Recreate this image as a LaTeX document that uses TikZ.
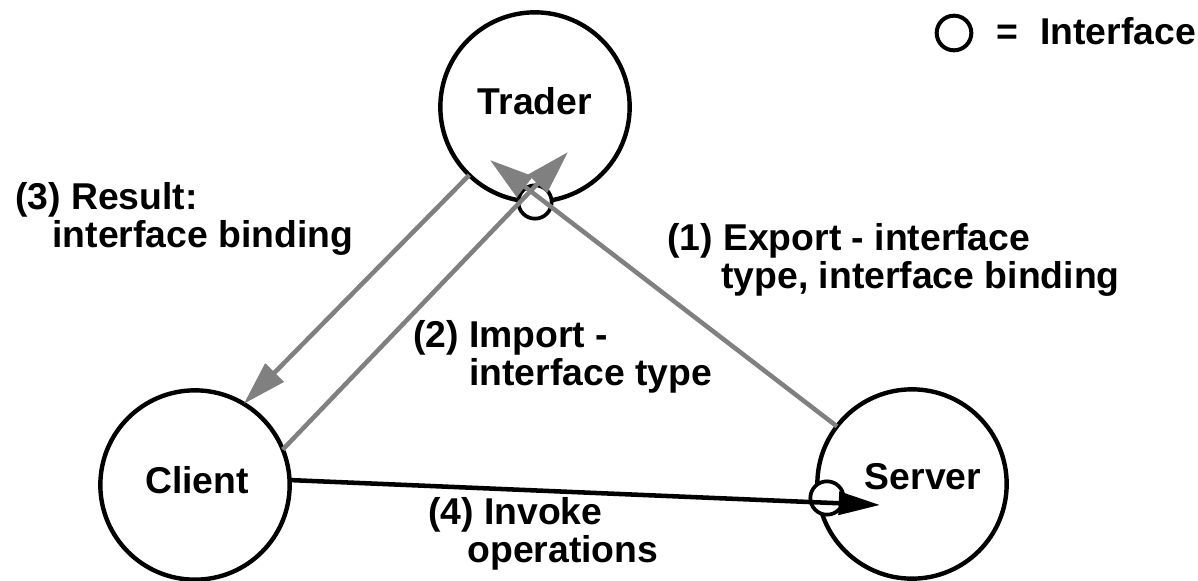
\documentclass[tikz,border=0pt]{standalone}
\usepackage{fontspec}
\setmainfont{Liberation Sans}
\usepackage{tikz}
\usetikzlibrary{arrows.meta}

\begin{document}
\begin{tikzpicture}[x=0.75pt, y=-0.75pt,
    font=\fontsize{28}{28.5}\selectfont\bfseries,
    agent/.style={draw, circle, line width=3.3pt, minimum size=142pt, inner sep=0pt, outer sep=0pt},
    iface/.style={draw, circle, fill=white, line width=2.8pt, minimum size=25pt, inner sep=0pt, outer sep=0pt},
    msg/.style={gray, line width=3.4pt, -{Triangle[length=33pt, width=19pt]}},
    call/.style={black, line width=3.4pt, -{Triangle[length=31pt, width=17pt]}},
    lbl/.style={anchor=base west, align=left, inner sep=0pt}]
    \useasboundingbox (0,0) rectangle (1198,581);

    % Draw the three objects
    \node[agent] (trader) at (535,107) {};
    \node[agent] (client) at (195,485) {};
    \node[agent] (server) at (912,484) {};
    \node[anchor=base] (tradername) at (535,115) {Trader};
    \node[anchor=base] (clientname) at (197,493) {Client};
    \node[anchor=base] (servername) at (923,489) {Server};

    % Draw the interfaces
    \node[iface] (traderif) at (535,202) {};
    \node[iface] (serverif) at (827,498) {};

    % Arrow ends inside the circles
    \coordinate (exporttip) at (490,160);
    \coordinate (importtip) at (568,152);
    \coordinate (invoketip) at (880,505);

    % Draw the messages
    \draw[msg] (server) -- (exporttip);
    \draw[msg] (client.22) -- (importtip);
    \draw[msg] (trader.226) -- (client.59);
    \draw[call] (client.3) -- (invoketip);

    % Add the step labels (base is the last line)
    \node[lbl] (export) at (667,288) {(1) Export - interface\\\hspace*{1.45em}type, interface binding};
    \node[lbl] (import) at (413,385) {(2) Import -\\\hspace*{1.5em}interface type};
    \node[lbl] (result) at (15,247) {(3) Result:\\\hspace*{1em}interface binding};
    \node[lbl] (invoke) at (428,562) {(4) Invoke\\\hspace*{1.05em}operations};

    % Add the legend
    \node[iface, line width=3pt, minimum size=26pt] (legendif) at (954,33) {};
    \node[anchor=base] (legendeq) at (1007,45) {=};
    \node[anchor=base west, inner sep=0pt] (legendtxt) at (1040,45) {Interface};

\end{tikzpicture}
\end{document}
